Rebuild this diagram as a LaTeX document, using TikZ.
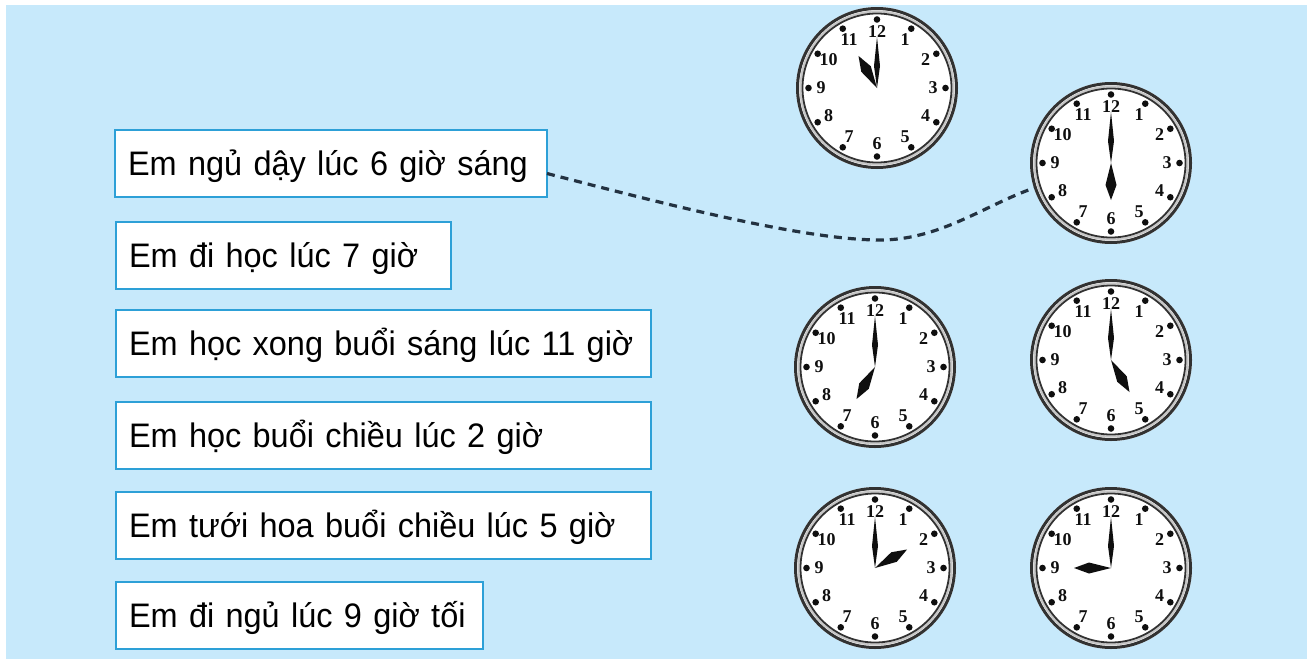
\documentclass[tikz,border=0pt]{standalone}
\usepackage{fontspec}
\setmainfont{Liberation Sans}[FakeStretch=0.955]
\newfontfamily\numfont{Liberation Serif}
\usetikzlibrary{calc}
\definecolor{bgc}{RGB}{199,233,251}
\definecolor{boxc}{RGB}{45,160,215}
\definecolor{ringc}{RGB}{50,50,50}
\definecolor{dashc}{RGB}{35,50,65}
\definecolor{handc}{RGB}{15,15,15}
\tikzset{
  txtbox/.style={draw=boxc, line width=2pt, fill=white, anchor=north west,
    minimum height=67pt, inner xsep=13pt, inner ysep=0pt, align=left,
    text height=24pt, text depth=0pt, outer sep=0pt,
    font=\fontsize{34}{40}\selectfont, text=black},
  clockface/.style={circle, minimum size=162pt, inner sep=0pt, outer sep=0pt, fill=white},
  numlbl/.style={inner sep=0pt, font=\numfont\bfseries\fontsize{18}{18}\selectfont, text=handc},
  dashline/.style={draw=dashc, line width=3.2pt, dash pattern=on 8pt off 6pt}
}
\newcommand\myclock[5]{%
  \node[clockface] (#1) at (#2,#3) {};
  \draw[ringc, line width=3pt] (#1) circle (79.5pt);
  \draw[gray!45, line width=2pt] (#1) circle (76.5pt);
  \draw[ringc, line width=1.8pt] (#1) circle (74.5pt);
  \foreach \h in {1,...,12}{%
    \fill[handc] ($(#1)+(\h*30-90:68.5)$) circle (3.3pt);
    \node[numlbl] at ($(#1)+(\h*30-90:56)$) {\h};
  }
  \fill[handc] (#1.center) -- ($(#1.center)+(#4:22)+(#4+90:5.5)$) -- ($(#1.center)+(#4:37)$) -- ($(#1.center)+(#4:22)+(#4-90:5.5)$) -- cycle;
  \fill[handc] (#1.center) -- ($(#1.center)+(#5:22)+(#5+90:3)$) -- ($(#1.center)+(#5:51)$) -- ($(#1.center)+(#5:22)+(#5-90:3)$) -- cycle;
}
\begin{document}
\begin{tikzpicture}[x=1pt,y=-1pt]
\useasboundingbox (0,0) rectangle (1307,659);
\fill[white] (0,0) rectangle (1307,659);
\fill[bgc] (6,5) rectangle (1307,659);

\node[txtbox, text width=406pt] (b1) at (115,130) {\mbox{Em ngủ dậy lúc 6 giờ sáng}};
\node[txtbox, text width=309pt] (b2) at (116,222) {\mbox{Em đi học lúc 7 giờ}};
\node[txtbox, text width=509pt] (b3) at (116,310) {\mbox{Em học xong buổi sáng lúc 11 giờ}};
\node[txtbox, text width=509pt] (b4) at (116,402) {\mbox{Em học buổi chiều lúc 2 giờ}};
\node[txtbox, text width=509pt] (b5) at (116,492) {\mbox{Em tưới hoa buổi chiều lúc 5 giờ}};
\node[txtbox, text width=341pt] (b6) at (116,582) {\mbox{Em đi ngủ lúc 9 giờ tối}};

\myclock{cA}{877}{88}{240}{-90}
\myclock{cB}{1111}{163}{90}{-90}
\myclock{cC}{875}{367}{120}{-90}
\myclock{cD}{1111}{360}{60}{-90}
\myclock{cE}{875}{568}{-30}{-90}
\myclock{cF}{1111}{568}{180}{-90}

\draw[dashline] ([yshift=-10pt]b1.east) .. controls (650,200) and (800,240) .. (880,240)
  .. controls (940,240) and (985,205) .. (cB.198);
\end{tikzpicture}
\end{document}
